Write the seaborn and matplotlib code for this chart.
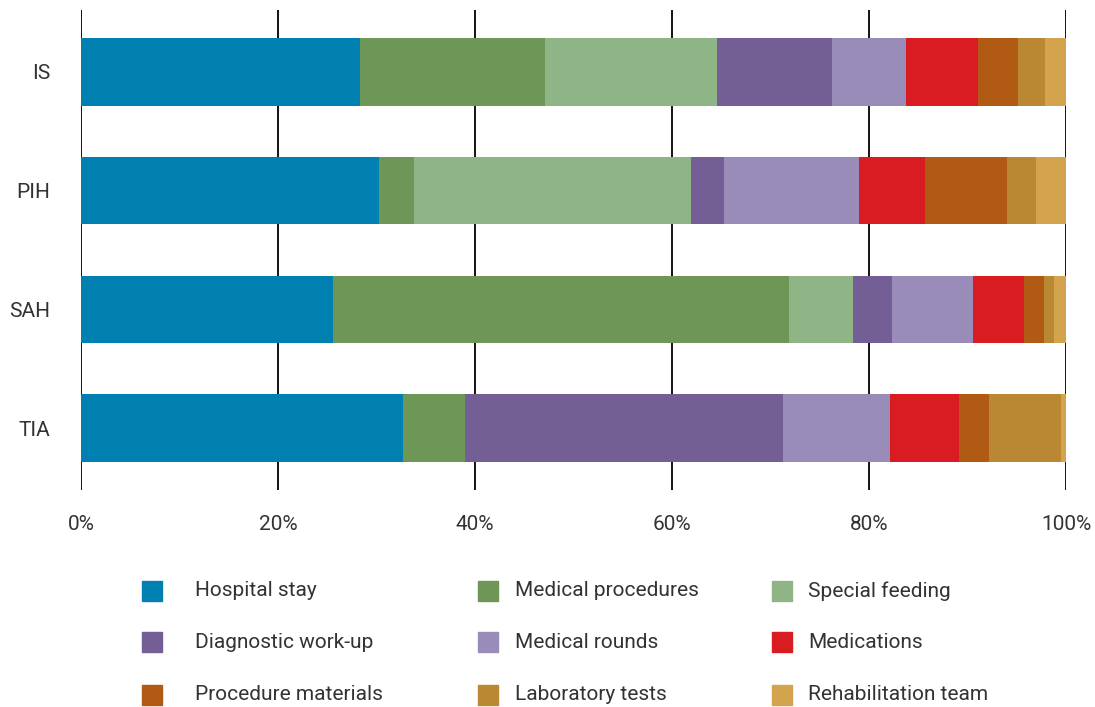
import matplotlib
matplotlib.use("Agg")
import matplotlib.pyplot as plt
import matplotlib.patches as mpatches
import numpy as np
import pandas as pd
import seaborn as sns

# share of cost (%) per diagnosis group
groups = ["IS", "PIH", "SAH", "TIA"]
categories = ["Hospital stay", "Medical procedures", "Special feeding",
              "Diagnostic work-up", "Medical rounds", "Medications",
              "Procedure materials", "Laboratory tests", "Rehabilitation team"]
hospital_stay = [28.3, 30.3, 25.6, 32.7]
medical_procedures = [18.8, 3.5, 46.3, 6.3]
special_feeding = [17.5, 28.1, 6.5, 0.0]
diagnostic_workup = [11.6, 3.4, 3.9, 32.3]
medical_rounds = [7.6, 13.7, 8.3, 10.8]
medications = [7.3, 6.7, 5.1, 7.0]
procedure_materials = [4.0, 8.3, 2.1, 3.1]
laboratory_tests = [2.8, 3.0, 1.0, 7.3]
rehabilitation_team = [2.1, 3.0, 1.2, 0.5]
xticks = [0, 20, 40, 60, 80, 100]

colors = ["#0080b0", "#6e9656", "#8fb486", "#745e96", "#9a8cb8",
          "#d91b22", "#b05a14", "#ba8733", "#d4a34d"]

series = [hospital_stay, medical_procedures, special_feeding, diagnostic_workup,
          medical_rounds, medications, procedure_materials, laboratory_tests,
          rehabilitation_team]
df = pd.DataFrame(dict(zip(categories, series)), index=groups)
cum = df.cumsum(axis=1)

sns.set_theme(style="white")
plt.rcParams["font.family"] = ["Roboto", "DejaVu Sans"]
text_color = "#333333"
fs = 15

W, H = 1095, 707
fig = plt.figure(figsize=(W / 100, H / 100), dpi=100)
ax = fig.add_axes([81 / W, 1 - 490 / H, 985 / W, 480 / H])

# stacked bars: draw cumulative totals from the widest down
for cat, col in reversed(list(zip(categories, colors))):
    d = pd.DataFrame({"group": groups, "value": cum[cat].values})
    sns.barplot(data=d, y="group", x="value", orient="h", color=col,
                saturation=1, width=0.57, linewidth=0, ax=ax, zorder=2)

ax.set_xlim(0, 100)
ax.set_ylim(3.52, -0.52)
ax.set_xticks(xticks)
ax.set_xticklabels([f"{t}%" for t in xticks])
ax.set_xlabel("")
ax.set_ylabel("")
ax.grid(axis="x", color="black", linewidth=1.3, zorder=0)
ax.set_axisbelow(True)
for s in ax.spines.values():
    s.set_visible(False)
ax.tick_params(axis="x", length=0, pad=18, labelsize=fs, labelcolor=text_color)
ax.tick_params(axis="y", length=0, pad=22, labelsize=fs, labelcolor=text_color)

# legend, three columns x three rows placed like the reference
sq_x = [142, 478, 772]
txt_x = [195, 515, 808]
row_y = [591, 642, 695]
for i, (lab, col) in enumerate(zip(categories, colors)):
    r, c = divmod(i, 3)
    fig.add_artist(mpatches.Rectangle((sq_x[c] / W, 1 - (row_y[r] + 10) / H),
                                      20 / W, 20 / H, color=col,
                                      transform=fig.transFigure))
    fig.text(txt_x[c] / W, 1 - row_y[r] / H, lab, ha="left", va="center",
             fontsize=fs, color=text_color)

fig.savefig("out.png", dpi=100)
